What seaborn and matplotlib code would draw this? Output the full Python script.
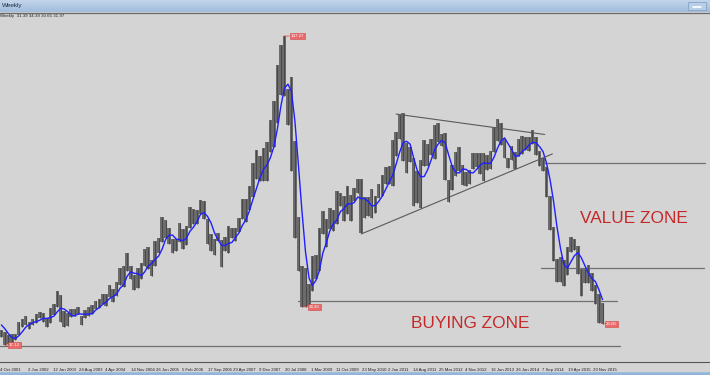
import numpy as np
import pandas as pd
import matplotlib
matplotlib.use("Agg")
import matplotlib.pyplot as plt
import matplotlib.dates as mdates
import matplotlib.transforms as mtransforms
from matplotlib.patches import Rectangle
from matplotlib.colors import LinearSegmentedColormap
import seaborn as sns

# ---------------- data (WTI crude, monthly ranges) ----------------
month_start = "2001-07"
month_end = "2016-02"

high = [
    28.2, 29.0, 31.0, 23.6, 22.6, 21.2,
    21.6, 21.9, 26.9, 28.0, 29.4, 27.0, 28.1, 30.0, 31.0, 30.8, 28.4, 32.8,
    34.2, 39.99, 38.0, 31.3, 30.4, 32.3, 32.3, 33.0, 29.5, 31.9, 33.0, 33.8,
    35.7, 36.6, 38.5, 38.5, 42.3, 40.5, 43.7, 49.4, 50.5, 55.7, 50.5, 46.8,
    49.5, 51.8, 57.6, 58.3, 52.8, 60.9, 62.3, 70.85, 69.8, 66.4, 61.8, 61.9,
    68.4, 65.8, 67.2, 75.35, 74.3, 73.9, 78.4, 77.8, 70.1, 63.8, 61.6, 64.2,
    61.3, 62.7, 67.4, 66.4, 66.4, 70.5, 78.8, 78.8, 84.1, 93.8, 99.3, 96.8,
    100.1, 102.6, 111.8, 119.9, 135.1, 143.7, 147.27, 125.0, 130.0, 103.0, 70.9, 50.5,
    49.6, 43.0, 54.7, 54.9, 66.5, 73.4, 70.0, 75.0, 74.0, 82.0, 81.3, 80.0,
    83.95, 80.5, 83.2, 87.15, 87.0, 79.3, 79.3, 82.9, 80.0, 84.9, 88.6, 92.0,
    92.6, 103.4, 107.0, 113.9, 114.8, 102.4, 100.6, 95.7, 90.5, 95.0, 103.4, 101.8,
    103.7, 109.8, 110.5, 106.1, 106.5, 86.6, 92.9, 98.3, 100.4, 93.0, 89.9, 91.0,
    98.2, 98.0, 97.9, 97.8, 97.1, 99.0, 108.9, 112.24, 110.7, 104.1, 95.9, 100.8,
    98.4, 104.0, 105.2, 104.9, 104.6, 107.7, 104.6, 98.7, 95.9, 91.9, 79.8, 67.0,
    53.5, 54.2, 53.0, 58.4, 62.6, 61.8, 58.9, 49.3, 49.0, 50.9, 47.6, 42.5,
    38.4, 34.7,
]
low = [
    24.9, 25.9, 21.8, 20.3, 17.12, 17.5,
    17.9, 19.3, 21.4, 24.5, 25.4, 24.0, 25.7, 26.2, 28.5, 26.9, 24.8, 26.3,
    29.8, 33.0, 26.9, 24.9, 25.0, 28.9, 29.5, 30.3, 25.5, 28.7, 29.4, 30.2,
    32.2, 32.5, 34.5, 33.5, 37.5, 35.3, 37.6, 42.5, 41.5, 48.5, 45.0, 40.2,
    41.3, 45.0, 50.5, 49.1, 46.2, 50.6, 55.8, 60.5, 62.2, 59.6, 55.9, 56.6,
    60.6, 57.6, 59.1, 66.4, 68.2, 68.0, 72.4, 70.0, 59.5, 56.6, 54.9, 60.8,
    49.9, 56.7, 56.0, 62.2, 61.1, 64.6, 70.0, 68.8, 74.0, 79.3, 87.1, 86.1,
    86.1, 86.1, 98.4, 100.7, 110.8, 122.3, 122.0, 110.0, 90.5, 62.0, 48.3, 33.2,
    33.2, 33.55, 40.0, 45.1, 48.5, 64.0, 58.3, 66.0, 65.0, 68.0, 75.5, 69.5,
    72.4, 69.5, 77.7, 81.2, 64.2, 70.8, 71.4, 70.8, 72.7, 79.0, 80.0, 84.8,
    85.0, 84.1, 96.9, 104.0, 94.6, 89.7, 94.0, 75.7, 77.1, 74.95, 92.5, 92.5,
    97.3, 95.4, 102.6, 101.0, 86.8, 77.3, 82.4, 88.1, 90.4, 84.5, 84.1, 85.0,
    91.3, 92.0, 89.3, 86.1, 90.9, 91.1, 98.5, 103.1, 101.3, 96.1, 91.8, 94.9,
    91.2, 96.8, 97.4, 99.2, 98.7, 101.8, 97.2, 92.5, 90.4, 79.4, 65.7, 52.7,
    43.6, 43.8, 42.0, 46.6, 56.2, 57.0, 47.0, 37.75, 43.2, 43.3, 39.9, 34.5,
    26.2, 26.05,
]

tick_labels = [
    "4 Oct 2001", "2 Jun 2002", "12 Jan 2003", "24 Aug 2003", "4 Apr 2004",
    "14 Nov 2004", "26 Jun 2005", "5 Feb 2006", "17 Sep 2006", "29 Apr 2007",
    "9 Dec 2007", "20 Jul 2008", "1 Mar 2009", "11 Oct 2009", "23 May 2010",
    "2 Jan 2011", "14 Aug 2011", "25 Mar 2012", "4 Nov 2012", "16 Jun 2013",
    "26 Jan 2014", "7 Sep 2014", "19 Apr 2015", "29 Nov 2015",
]

zone_levels = [35.65, 16.9, 93.8, 49.5]
zone_starts = ["2008-11-08", "2001-09-01", "2014-08-26", "2014-08-26"]
zone_ends = ["2016-06-24", "2016-07-20", "2018-07-28", "2018-07-20"]

trend_dates = [["2011-03-17", "2014-09-30"], ["2010-05-17", "2014-12-06"]]
trend_prices = [[114.4, 105.8], [63.9, 97.6]]

extreme_dates = ["2008-07-11", "2008-12-19", "2016-02-11", "2001-11-15"]
extreme_prices = [147.27, 33.20, 26.05, 17.12]
extreme_labels = ["147.27", "33.20", "26.05", "17.12"]

header_text = "Weekly  31.39 34.39 30.65 31.97"
zone_texts = ["VALUE ZONE", "BUYING ZONE"]

# ---------------- figure ----------------
sns.set_theme(style="white")
plt.rcParams["font.family"] = ["Liberation Sans", "DejaVu Sans"]

W, H = 710, 375
BG = "#d4d4d4"
fig = plt.figure(figsize=(W / 100, H / 100), dpi=100)
fig.patch.set_facecolor(BG)

ax = fig.add_axes([0, 13 / H, 1, 349 / H])
ax.set_facecolor(BG)

dates = pd.period_range(month_start, month_end, freq="M").to_timestamp(how="start") + pd.Timedelta(days=15)
df = pd.DataFrame({"x": mdates.date2num(dates), "high": high, "low": low})
df["mid"] = (df["high"] + df["low"]) / 2
df["ma"] = df["mid"].rolling(4).mean()

# price bars (range of each period)
ax.bar(df["x"], df["high"] - df["low"], bottom=df["low"], width=30.4,
       color="#6c6c6c", linewidth=0, zorder=2)
ax.vlines(df["x"], df["low"], df["high"], color="#4a4a4a", lw=0.8, zorder=2)

# moving average
ma_df = df.dropna(subset=["ma"])
sns.lineplot(data=ma_df, x="x", y="ma", ax=ax, color="#1f1fff", linewidth=1.0, zorder=3)

# horizontal zone levels
for lvl, s, e in zip(zone_levels, zone_starts, zone_ends):
    ax.plot(mdates.date2num(pd.to_datetime([s, e])), [lvl, lvl], color="#707070", lw=0.9, zorder=1)

# triangle trend lines
for dd, pp in zip(trend_dates, trend_prices):
    ax.plot(mdates.date2num(pd.to_datetime(dd)), pp, color="#5a5a5a", lw=0.8, zorder=4)

# extreme labels
offs = [5, 5, 3, 3]
for d, p, t, o in zip(extreme_dates, extreme_prices, extreme_labels, offs):
    ax.annotate(t, xy=(mdates.date2num(pd.Timestamp(d)), p), xytext=(o, 0),
                textcoords="offset points", fontsize=3.2, color="white",
                ha="left", va="center", zorder=6,
                bbox=dict(boxstyle="square,pad=0.25", fc="#e86a6a", ec="#d04545", lw=0.4),
                arrowprops=dict(arrowstyle="-", color="#d04545", lw=0.5, shrinkA=0, shrinkB=0))

# zone texts
ax.text(0.893, 0.4126, zone_texts[0], transform=ax.transAxes, fontsize=12.4,
        color="#c62828", ha="center", va="center", zorder=6)
ax.text(0.662, 0.1089, zone_texts[1], transform=ax.transAxes, fontsize=12.4,
        color="#c62828", ha="center", va="center", zorder=6)

# axes limits (linear price scale, weekly time scale)
d0 = mdates.date2num(pd.Timestamp("2002-06-02"))
px_per_day = 0.8068 / 7
ax.set_xlim(d0 - 25 / px_per_day, d0 + 685 / px_per_day)
ax.set_ylim(9.96, 156.97)

tick_x = mdates.date2num(pd.to_datetime(tick_labels, format="%d %b %Y"))
ax.set_xticks(tick_x)
ax.set_xticklabels(tick_labels, fontsize=3.1, color="#202020")
off = mtransforms.ScaledTranslation(1.2 / 100, 0, fig.dpi_scale_trans)
for lab in ax.get_xticklabels():
    lab.set_ha("left")
    lab.set_transform(lab.get_transform() + off)
ax.set_yticks([])
ax.tick_params(axis="x", direction="out", length=3, width=0.6, pad=1.4, color="#404040")
ax.set_xlabel("")
ax.set_ylabel("")
for s in ["top", "left", "right"]:
    ax.spines[s].set_visible(False)
ax.spines["bottom"].set_color("#555555")
ax.spines["bottom"].set_linewidth(0.8)

# header price text
fig.text(0.5 / W, 1 - 16.5 / H, header_text, fontsize=3.2, color="#202020", va="center", ha="left")

# title bar
tb = fig.add_axes([0, 1 - 12 / H, 1, 12 / H])
grad = np.linspace(0, 1, 50).reshape(-1, 1)
cm_t = LinearSegmentedColormap.from_list("t", ["#c3d5ea", "#a2bddc"])
tb.imshow(grad, aspect="auto", cmap=cm_t, extent=[0, 1, 0, 1], origin="upper")
tb.set_xlim(0, 1)
tb.set_ylim(0, 1)
tb.axis("off")
tb.text(2 / W, 0.5, "Weekly", fontsize=4.6, color="#1c2c44", va="center", ha="left")
tb.add_patch(Rectangle((688 / W, 0.2), 18 / W, 0.6, fc="#b8cde6", ec="#7f9cc2", lw=0.5))
tb.plot([693 / W, 701 / W], [0.42, 0.42], color="white", lw=1.2)
fig.add_artist(plt.Line2D([0, 1], [1 - 12.5 / H, 1 - 12.5 / H], color="#6a6a6a", lw=0.9))

# bottom bar
bb = fig.add_axes([0, 0, 1, 3.5 / H])
cm_b = LinearSegmentedColormap.from_list("b", ["#a9c2e0", "#8fb0d8"])
bb.imshow(grad, aspect="auto", cmap=cm_b, extent=[0, 1, 0, 1], origin="upper")
bb.axis("off")

fig.savefig("out.png", dpi=100, facecolor=BG)
